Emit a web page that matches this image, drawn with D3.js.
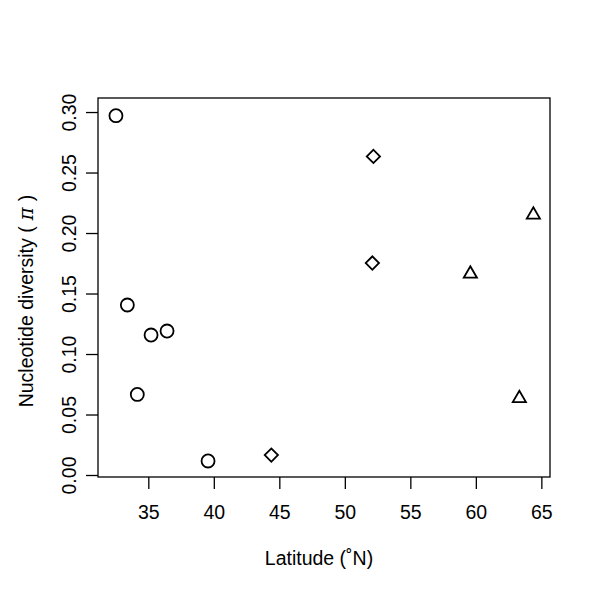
<!DOCTYPE html>
<meta charset="utf-8">
<html>
<head>
<style>
  body { margin: 0; background: #fff; }
  text { font-family: "Liberation Sans", Arial, Helvetica, sans-serif; fill: #000; }
</style>
</head>
<body>
<div id="chart"></div>

<script src="https://d3js.org/d3.v7.min.js"></script>

<script>

  // Data: latitude (N) and nucleotide diversity, one group per symbol
  var circleLat = [32.53, 33.40, 34.16, 35.21, 36.43, 39.56];
  var circlePi  = [0.297, 0.1405, 0.0666, 0.1157, 0.1190, 0.0116];

  var diamondLat = [44.39, 52.18, 52.10];
  var diamondPi  = [0.0165, 0.2633, 0.1752];

  var triangleLat = [59.58, 63.32, 64.39];
  var trianglePi  = [0.1662, 0.0634, 0.2150];

  var xTicks = [35, 40, 45, 50, 55, 60, 65];
  var yTicks = [0.00, 0.05, 0.10, 0.15, 0.20, 0.25, 0.30];

  // Set the dimensions
  var margin = {top: 98, right: 50, bottom: 123, left: 98},
      width = 600 - margin.left - margin.right,
      height = 600 - margin.top - margin.bottom;

  var fontSize = "19.5px";

  var svg = d3.select("#chart")
    .append("svg")
      .attr("width", 600)
      .attr("height", 600)
    .append("g")
      .attr("transform", "translate(" + margin.left + "," + margin.top + ")");

  var x = d3.scaleLinear()
    .domain([31.16, 65.66])
    .range([0, width]);

  var y = d3.scaleLinear()
    .domain([-0.00165, 0.3116])
    .range([height, 0]);

  // X axis
  var xAxis = svg.append("g")
    .attr("transform", "translate(0," + height + ")")
    .call(d3.axisBottom(x).tickValues(xTicks).tickSize(12).tickPadding(16).tickFormat(d3.format("d")));
  xAxis.select(".domain").remove();
  xAxis.selectAll("line").attr("stroke-width", 1.3);
  xAxis.selectAll("text").attr("font-size", fontSize)
    .attr("font-family", "Liberation Sans, Arial, sans-serif");

  // Y axis, labels turned as in R
  var yAxis = svg.append("g")
    .call(d3.axisLeft(y).tickValues(yTicks).tickSize(12).tickFormat(d3.format(".2f")));
  yAxis.select(".domain").remove();
  yAxis.selectAll("line").attr("stroke-width", 1.3);
  yAxis.selectAll("text")
    .attr("font-size", fontSize)
    .attr("font-family", "Liberation Sans, Arial, sans-serif")
    .attr("x", null).attr("dy", null)
    .attr("text-anchor", "middle")
    .attr("transform", "translate(-22,0) rotate(-90)");

  // Box
  svg.append("rect")
    .attr("width", width)
    .attr("height", height)
    .attr("fill", "none")
    .attr("stroke", "black")
    .attr("stroke-width", 1.3);

  // Axis titles
  svg.append("text")
    .attr("text-anchor", "middle")
    .attr("x", width / 2 - 5)
    .attr("y", height + 88)
    .attr("font-size", fontSize)
    .text("Latitude (\u02DAN)");

  var yl = svg.append("text")
    .attr("text-anchor", "middle")
    .attr("font-size", fontSize)
    .attr("transform", "translate(" + (33 - margin.left) + "," + (301 - margin.top) + ") rotate(-90)");
  yl.append("tspan").text("Nucleotide diversity (");
  yl.append("tspan")
    .attr("font-family", "DejaVu Serif, serif")
    .attr("font-style", "italic")
    .text(" \u03C0 ");
  yl.append("tspan").text(")");

  // Points
  function addPoints(lats, pis, type, size, angle) {
    var sym = d3.symbol().type(type).size(size);
    svg.selectAll(null)
      .data(lats.map(function(d, i) { return {lat: d, pi: pis[i]}; }))
      .enter()
      .append("path")
        .attr("d", sym)
        .attr("transform", function(d) {
          return "translate(" + x(d.lat) + "," + y(d.pi) + ") rotate(" + angle + ")";
        })
        .attr("fill", "none")
        .attr("stroke", "black")
        .attr("stroke-width", 1.8);
  }

  addPoints(circleLat, circlePi, d3.symbolCircle, 133, 0);
  addPoints(diamondLat, diamondPi, d3.symbolSquare, 88, 45);
  addPoints(triangleLat, trianglePi, d3.symbolTriangle, 75, 0);

</script>
</body>
</html>
